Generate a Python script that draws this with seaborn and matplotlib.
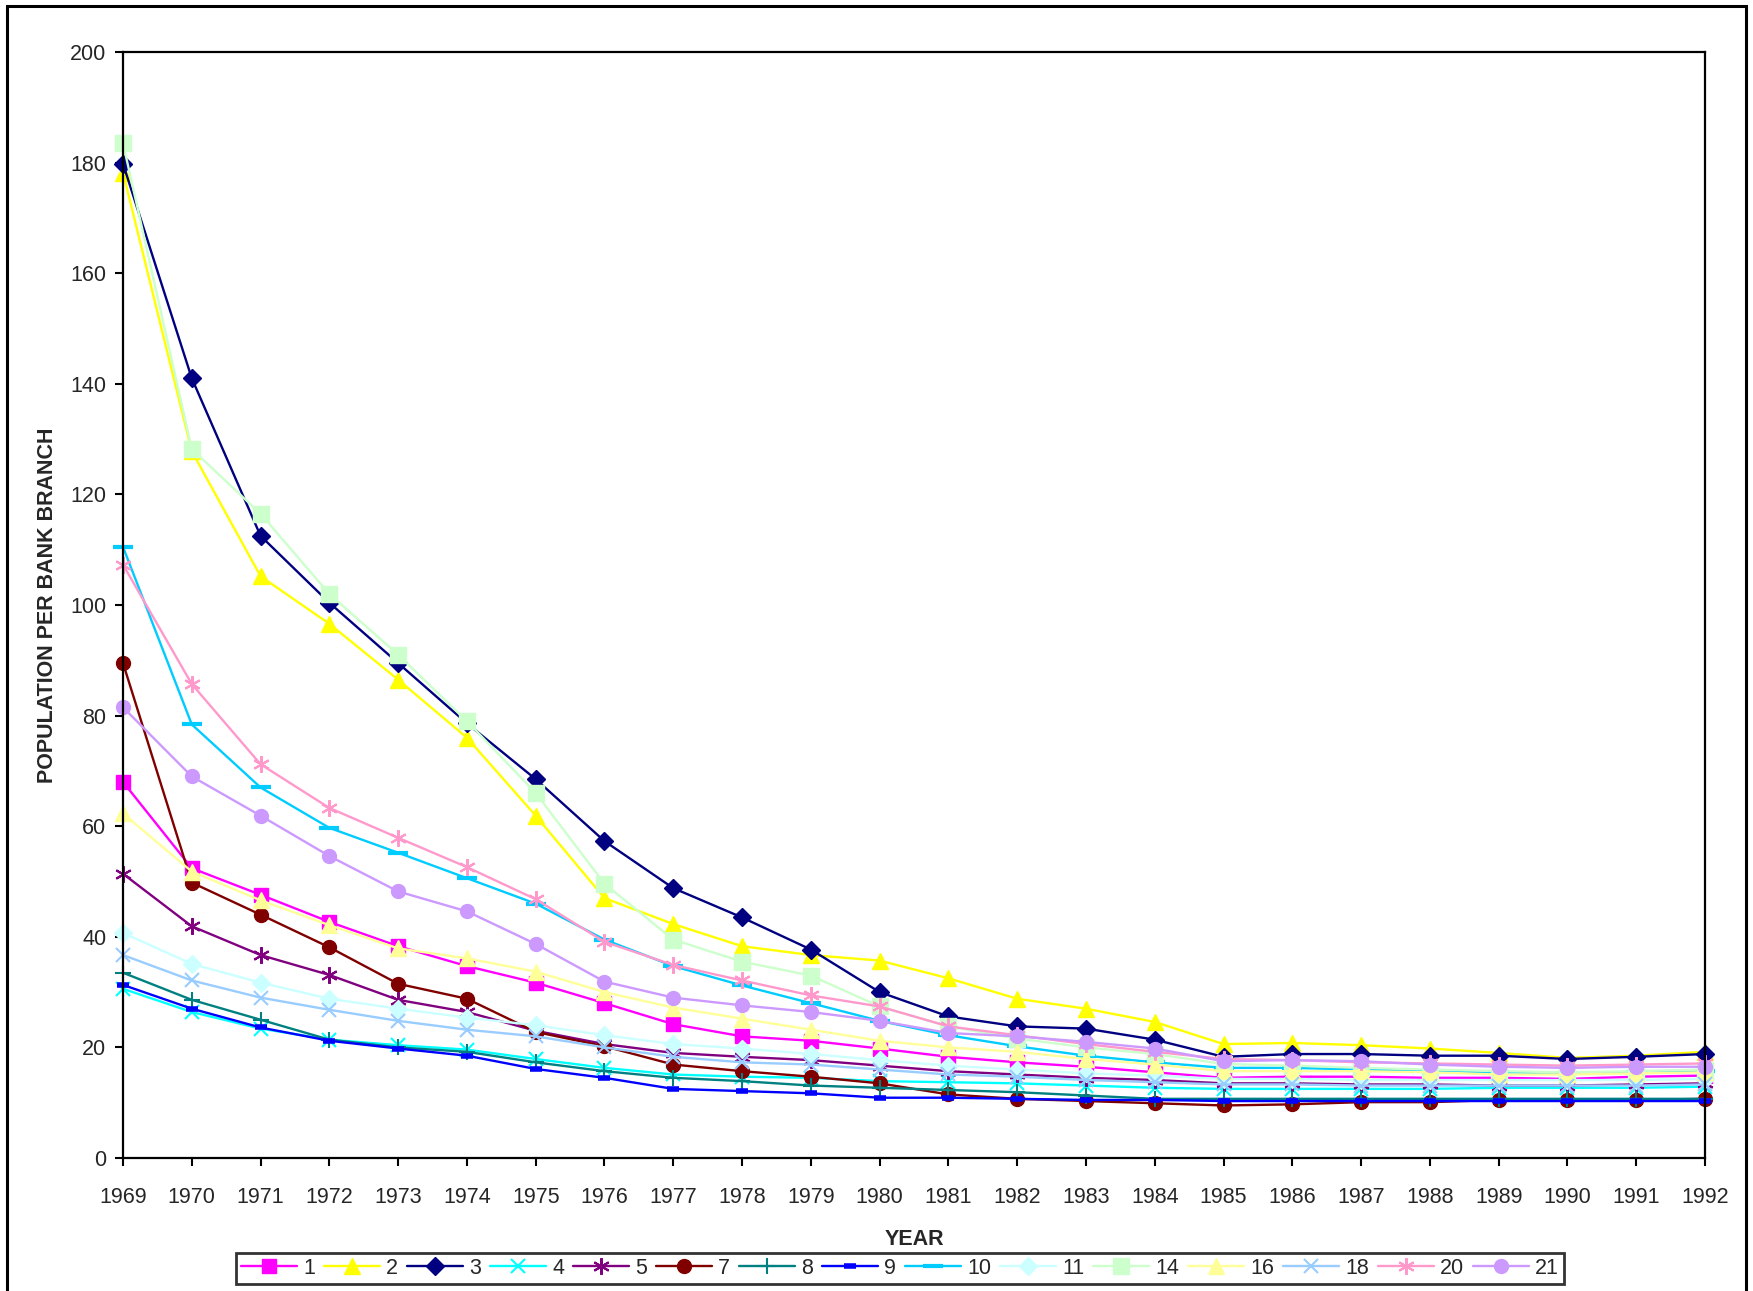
import numpy as np
import pandas as pd
import matplotlib
matplotlib.use('Agg')
import matplotlib.pyplot as plt
import seaborn as sns
from matplotlib.patches import Rectangle

years = list(range(1969, 1993))

s1 = [68, 52.4, 47.6, 42.7, 38.3, 34.7, 31.7, 28, 24.2, 22, 21.2, 19.8, 18.3, 17.3, 16.5, 15.5, 14.5, 14.7, 14.7, 14.5, 14.5, 14.3, 14.7, 14.9]
s2 = [178.2, 127.8, 105.2, 96.6, 86.5, 76, 61.9, 47, 42.3, 38.3, 36.7, 35.7, 32.5, 28.8, 27, 24.6, 20.6, 20.8, 20.4, 19.8, 19, 18.1, 18.5, 19.2]
s3 = [179.8, 141, 112.5, 100.4, 89.5, 78.6, 68.5, 57.3, 48.8, 43.5, 37.7, 30, 25.6, 23.8, 23.4, 21.4, 18.3, 18.8, 18.8, 18.5, 18.5, 17.9, 18.3, 18.8]
s4 = [30.6, 26.4, 23.4, 21.4, 20.4, 19.6, 17.9, 16.3, 15.1, 14.7, 14.5, 13.9, 13.7, 13.5, 13.1, 12.7, 12.5, 12.5, 12.5, 12.5, 12.7, 12.7, 12.7, 12.9]
s5 = [51.4, 41.9, 36.7, 33.1, 28.6, 26.4, 23, 20.6, 19, 18.3, 17.7, 16.7, 15.7, 15.1, 14.5, 14.1, 13.5, 13.5, 13.3, 13.3, 13.1, 13.1, 13.3, 13.5]
s7 = [89.5, 49.8, 44, 38.1, 31.5, 28.8, 22.8, 20.2, 16.9, 15.7, 14.7, 13.5, 11.5, 10.7, 10.3, 9.9, 9.5, 9.7, 10.1, 10.1, 10.5, 10.5, 10.5, 10.7]
s8 = [33.5, 28.6, 25, 21.4, 20, 19.2, 17.3, 15.7, 14.5, 13.9, 13.1, 12.7, 12.3, 11.9, 11.3, 10.7, 10.7, 10.7, 10.7, 10.7, 10.7, 10.7, 10.7, 10.7]
s9 = [31.3, 27, 23.6, 21.2, 19.8, 18.5, 16.1, 14.5, 12.5, 12.1, 11.7, 10.9, 10.9, 10.7, 10.5, 10.5, 10.3, 10.3, 10.3, 10.3, 10.3, 10.3, 10.3, 10.3]
s10 = [110.5, 78.4, 67, 59.7, 55.2, 50.6, 46, 39.5, 34.7, 31.2, 28, 24.8, 22.2, 20.2, 18.5, 17.3, 16.3, 16.3, 16, 15.7, 15.5, 15.3, 15.5, 15.7]
s11 = [40.7, 35.1, 31.7, 28.8, 27, 25.4, 24, 22.2, 20.6, 19.8, 18.8, 17.7, 16.7, 16, 15.3, 14.9, 14.3, 14.3, 14.1, 14.1, 14.1, 14.1, 14.1, 14.3]
s14 = [183.5, 128.2, 116.5, 102, 91, 79, 66, 49.6, 39.5, 35.5, 33, 27.4, 23.8, 21.6, 20, 18.8, 17, 16.7, 16.3, 16, 15.7, 15.5, 15.7, 16]
s16 = [62.3, 51.8, 46.6, 42.1, 37.9, 36.1, 33.7, 30, 27.2, 25.2, 23.2, 21.2, 20, 19.2, 17.9, 16.9, 15.7, 15.7, 15.7, 15.5, 15.1, 15.1, 15.3, 15.5]
s18 = [36.7, 32.1, 29, 26.8, 24.8, 23.2, 22, 20, 18.3, 17.3, 16.9, 16, 15.1, 14.7, 14.1, 13.7, 13.3, 13.3, 13.1, 13.1, 13.1, 13.1, 13.1, 13.3]
s20 = [107.3, 85.7, 71.2, 63.3, 57.9, 52.6, 46.8, 39.1, 34.9, 32.1, 29.4, 27.4, 23.8, 22.2, 20.6, 19.2, 17.9, 17.7, 17.3, 17.1, 16.9, 16.7, 16.9, 17.1]
s21 = [81.5, 69, 61.9, 54.6, 48.2, 44.6, 38.7, 31.9, 29, 27.6, 26.4, 24.8, 22.6, 22, 21, 19.8, 17.5, 17.7, 17.5, 16.9, 16.5, 16.3, 16.5, 16.5]

series_names = ['1', '2', '3', '4', '5', '7', '8', '9', '10', '11', '14', '16', '18', '20', '21']
series_values = [s1, s2, s3, s4, s5, s7, s8, s9, s10, s11, s14, s16, s18, s20, s21]

colors = ['#FF00FF', '#FFFF00', '#000080', '#00FFFF', '#800080', '#800000', '#008080', '#0000FF',
          '#00CCFF', '#CCFFFF', '#CCFFCC', '#FFFF99', '#99CCFF', '#FF99CC', '#CC99FF']
asterisk = (6, 2, 0)
markers = ['s', '^', 'D', 'x', asterisk, 'o', '+', '_', '_', 'D', 's', '^', 'x', asterisk, 'o']
msizes = [10, 11, 9, 10, 12, 10, 12, 8, 14, 9, 11, 11, 10, 12, 10]
mews = [1, 1, 1, 1.5, 1.5, 1, 1.5, 4, 3, 1, 1, 1, 1.5, 1.5, 1]

sns.set_theme(style='white')
plt.rcParams['font.family'] = ['Liberation Sans', 'DejaVu Sans']

fig = plt.figure(figsize=(17.53, 12.91), dpi=100)
ax = fig.add_axes([123 / 1753, 1 - 1158 / 1291, (1705 - 123) / 1753, (1158 - 52) / 1291])

for name, vals, c, m, ms, mew in zip(series_names, series_values, colors, markers, msizes, mews):
    df = pd.DataFrame({'YEAR': years, 'val': vals})
    sns.lineplot(data=df, x='YEAR', y='val', ax=ax, color=c, marker=m, markersize=ms,
                 markeredgewidth=mew, markeredgecolor=c, linewidth=1.7, label=name,
                 clip_on=False)

ax.set_xlim(1969, 1992)
ax.set_ylim(0, 200)
ax.set_xticks(years)
ax.set_yticks(np.arange(0, 201, 20))
ax.tick_params(axis='both', direction='out', length=6, width=1.5, color='black',
               labelsize=15.5, pad=6, bottom=True, left=True)
ax.tick_params(axis='x', pad=15)
for sp in ax.spines.values():
    sp.set_color('black')
    sp.set_linewidth(1.6)
ax.set_xlabel('YEAR', fontsize=15.5, fontweight='bold', labelpad=15)
ax.set_ylabel('POPULATION PER BANK BRANCH', fontsize=15.5, fontweight='bold', labelpad=9)
ax.grid(False)

leg = ax.legend(ncol=15, loc='center', bbox_to_anchor=(900 / 1753, 1 - 1268.5 / 1291),
                bbox_transform=fig.transFigure, fontsize=15.5, frameon=True, fancybox=False,
                handlelength=2.6, handletextpad=0.3, columnspacing=0.4, borderpad=0.25,
                borderaxespad=0)
leg.get_frame().set_edgecolor('black')
leg.get_frame().set_linewidth(2)
leg.get_frame().set_facecolor('white')

fig.patches.append(Rectangle((7 / 1753, -0.02), (1746 - 7) / 1753, 1 - 6 / 1291 + 0.02,
                             transform=fig.transFigure, fill=False, edgecolor='black',
                             linewidth=2.2, clip_on=False))

fig.savefig('out.png', dpi=100, facecolor='white')
